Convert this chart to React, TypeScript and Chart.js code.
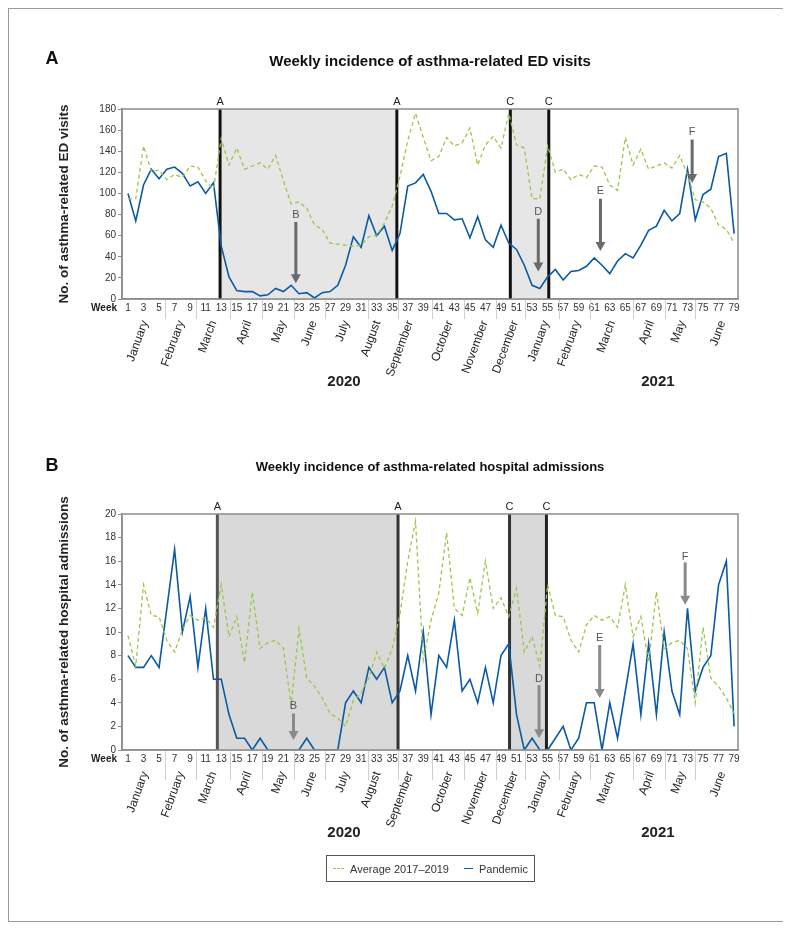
import React, { useEffect, useRef } from 'react';
import { Chart, registerables } from 'chart.js';

Chart.register(...registerables);

const FONT = "'Liberation Sans', Arial, Helvetica, sans-serif";
const NARROW = "'Liberation Sans Narrow', 'Liberation Sans', Arial, sans-serif";
const GREEN = '#9cc64a';
const BLUE = '#0b5aa2';
const AXIS = '#8c8c8c';

// ---------- categories / ticks ----------
const weeks = [
  1, 2, 3, 4, 5, 6, 7, 8, 9, 10, 11, 12, 13, 14, 15, 16, 17, 18, 19, 20,
  21, 22, 23, 24, 25, 26, 27, 28, 29, 30, 31, 32, 33, 34, 35, 36, 37, 38, 39, 40,
  41, 42, 43, 44, 45, 46, 47, 48, 49, 50, 51, 52, 53, 54, 55, 56, 57, 58, 59, 60,
  61, 62, 63, 64, 65, 66, 67, 68, 69, 70, 71, 72, 73, 74, 75, 76, 77, 78, 79,
];
const weekTicks = [
  1, 3, 5, 7, 9, 11, 13, 15, 17, 19, 21, 23, 25, 27, 29, 31, 33, 35, 37, 39,
  41, 43, 45, 47, 49, 51, 53, 55, 57, 59, 61, 63, 65, 67, 69, 71, 73, 75, 77, 79,
];
const monthNames = [
  'January', 'February', 'March', 'April', 'May', 'June', 'July', 'August',
  'September', 'October', 'November', 'December',
  'January', 'February', 'March', 'April', 'May', 'June',
];
const monthAnchorWeeks = [
  3.2, 7.85, 12.0, 16.5, 20.95, 24.9, 29.1, 33.1, 37.3, 42.4, 46.9, 50.8,
  54.8, 58.85, 63.3, 68.3, 72.35, 77.5,
];
const monthSepWeeks = [5.7, 9.8, 14.1, 18.2, 22.3, 26.4, 31.9, 35.8, 40.1, 44.2, 48.3, 52.1, 56.5, 60.5, 66, 70.1, 74];
const yearLabels = ['2020', '2021'];
const yearWeeks = [28.8, 69.2];

// ---------- Panel A: ED visits ----------
const edAverage = [
  95, 95, 145, 121, 122, 113, 118, 115, 126, 125, 112, 104, 152, 127, 143, 123, 126, 129, 123, 136,
  112, 90, 92, 86, 70, 66, 53, 52, 51, 50, 51, 59, 60, 72, 88, 116, 150, 176, 153, 131,
  135, 153, 145, 148, 162, 127, 146, 154, 143, 176, 146, 143, 95, 95, 145, 120, 123, 113, 118, 115,
  126, 125, 108, 103, 153, 127, 142, 123, 126, 129, 124, 136, 118, 94, 92, 86, 70, 66, 53,
];
const edPandemic = [
  100, 74, 108, 123, 114, 123, 125, 119, 107, 111, 100, 110, 50, 21, 8, 7, 7, 3, 4, 10,
  7, 13, 5, 6, 1, 6, 7, 13, 32, 59, 49, 79, 60, 69, 46, 62, 107, 110, 118, 102,
  81, 81, 75, 76, 58, 78, 56, 49, 70, 53, 47, 32, 13, 10, 21, 28, 18, 26, 27, 31,
  39, 32, 24, 36, 43, 39, 51, 65, 69, 84, 74, 81, 123, 75, 99, 104, 135, 138, 62,
];
const edPeriodWeeks = [12.85, 35.6, 50.2, 55.15];
const edPeriodLabels = ['A', 'A', 'C', 'C'];
const edArrowWeeks = [22.6, 53.8, 61.8, 73.6];
const edArrowLabels = ['B', 'D', 'E', 'F'];
const edArrowLabelVals = [80, 82, 102, 158];
const edArrowStartVals = [73, 76, 95, 151];
const edArrowTipVals = [15, 26, 45.5, 110];

// ---------- Panel B: hospital admissions ----------
const hospAverage = [
  9.7, 7.1, 14, 11.4, 11.3, 9.3, 8.3, 10.2, 11.4, 11, 11.2, 10.4, 14, 9.6, 11.3, 7.4, 13.4, 8.6, 9.1, 9.3,
  8.6, 3.8, 10.3, 6.1, 5.4, 4.4, 3.1, 2.7, 2.0, 4.2, 4.8, 6.1, 8.3, 6.9, 8.6, 11.5, 16, 19.4, 7.6, 11,
  13.3, 18.4, 12, 11.4, 14.6, 11.6, 16, 12, 12.9, 11.3, 13.7, 8.3, 9.6, 7.1, 14, 11.4, 11.3, 9.3, 8.3, 10.6,
  11.4, 11, 11.3, 10.4, 14, 9.6, 11.3, 7.4, 13.4, 8.6, 9.1, 9.3, 8.6, 4, 10.4, 6.1, 5.4, 4.4, 3.1,
];
const hospPandemic = [
  8, 7, 7, 8, 7, 12, 17, 10, 13, 7, 12, 6, 6, 3, 1, 1, 0, 1, 0, 0,
  0, 0, 0, 1, 0, 0, 0, 0, 4, 5, 4, 7, 6, 7, 4, 5, 8, 5, 10, 3,
  8, 7, 11, 5, 6, 4, 7, 4, 8, 9, 3, 0, 1, 0, 0, 1, 2, 0, 1, 4,
  4, 0, 4, 1, 5, 9, 3, 9, 3, 10, 5, 3, 12, 5, 7, 8, 14, 16, 2,
];
const hospPeriodWeeks = [12.5, 35.75, 50.1, 54.85];
const hospPeriodLabels = ['A', 'A', 'C', 'C'];
const hospArrowWeeks = [22.3, 53.9, 61.7, 72.7];
const hospArrowLabels = ['B', 'D', 'E', 'F'];
const hospArrowLabelVals = [3.7, 6.0, 9.5, 16.4];
const hospArrowStartVals = [3.1, 5.5, 8.9, 15.9];
const hospArrowTipVals = [0.85, 1.0, 4.4, 12.3];

type PanelCfg = {
  avg: number[];
  pandemic: number[];
  yMax: number;
  yStep: number;
  yTitle: string;
  padTop: number;
  xHeight: number;
  height: number;
  shade: string;
  periodWeeks: number[];
  periodLabels: string[];
  periodColors: string[];
  arrowWeeks: number[];
  arrowLabels: string[];
  arrowLabelVals: number[];
  arrowStartVals: number[];
  arrowTipVals: number[];
  arrowColor: string;
  sepLen: number;
};

const panelA: PanelCfg = {
  avg: edAverage,
  pandemic: edPandemic,
  yMax: 180,
  yStep: 20,
  yTitle: 'No. of asthma-related ED visits',
  padTop: 100,
  xHeight: 110,
  height: 400,
  shade: '#e6e6e6',
  periodWeeks: edPeriodWeeks,
  periodLabels: edPeriodLabels,
  periodColors: ['#111', '#111', '#111', '#111'],
  arrowWeeks: edArrowWeeks,
  arrowLabels: edArrowLabels,
  arrowLabelVals: edArrowLabelVals,
  arrowStartVals: edArrowStartVals,
  arrowTipVals: edArrowTipVals,
  arrowColor: '#6a6a6a',
  sepLen: 20,
};

const panelB: PanelCfg = {
  avg: hospAverage,
  pandemic: hospPandemic,
  yMax: 20,
  yStep: 2,
  yTitle: 'No. of asthma-related hospital admissions',
  padTop: 105,
  xHeight: 170,
  height: 511,
  shade: '#d9d9d9',
  periodWeeks: hospPeriodWeeks,
  periodLabels: hospPeriodLabels,
  periodColors: ['#555', '#333', '#333', '#222'],
  arrowWeeks: hospArrowWeeks,
  arrowLabels: hospArrowLabels,
  arrowLabelVals: hospArrowLabelVals,
  arrowStartVals: hospArrowStartVals,
  arrowTipVals: hospArrowTipVals,
  arrowColor: '#8a8a8a',
  sepLen: 30,
};

function decorPlugin(cfg: PanelCfg) {
  return {
    id: 'decor',
    beforeDatasetsDraw(chart: any) {
      const { ctx, chartArea: a, scales } = chart;
      const x = scales.x;
      ctx.save();
      ctx.fillStyle = cfg.shade;
      for (let i = 0; i + 1 < cfg.periodWeeks.length; i += 2) {
        const x0 = x.getPixelForValue(cfg.periodWeeks[i]);
        const x1 = x.getPixelForValue(cfg.periodWeeks[i + 1]);
        ctx.fillRect(x0, a.top, x1 - x0, a.bottom - a.top);
      }
      cfg.periodWeeks.forEach((w, i) => {
        const px = x.getPixelForValue(w);
        ctx.strokeStyle = cfg.periodColors[i];
        ctx.lineWidth = 3;
        ctx.beginPath();
        ctx.moveTo(px, a.top);
        ctx.lineTo(px, a.bottom);
        ctx.stroke();
        ctx.fillStyle = '#222';
        ctx.font = `11px ${FONT}`;
        ctx.textAlign = 'center';
        ctx.textBaseline = 'bottom';
        ctx.fillText(cfg.periodLabels[i], px, a.top - 2);
      });
      ctx.restore();
    },
    afterDatasetsDraw(chart: any) {
      const { ctx, scales } = chart;
      const x = scales.x;
      const y = scales.y;
      ctx.save();
      cfg.arrowWeeks.forEach((w, i) => {
        const px = x.getPixelForValue(w);
        const yS = y.getPixelForValue(cfg.arrowStartVals[i]);
        const yT = y.getPixelForValue(cfg.arrowTipVals[i]);
        const head = 9;
        ctx.strokeStyle = cfg.arrowColor;
        ctx.fillStyle = cfg.arrowColor;
        ctx.lineWidth = 3;
        ctx.beginPath();
        ctx.moveTo(px, yS);
        ctx.lineTo(px, yT - head + 1);
        ctx.stroke();
        ctx.beginPath();
        ctx.moveTo(px - 5, yT - head);
        ctx.lineTo(px + 5, yT - head);
        ctx.lineTo(px, yT);
        ctx.closePath();
        ctx.fill();
        ctx.fillStyle = '#555';
        ctx.font = `11px ${FONT}`;
        ctx.textAlign = 'center';
        ctx.textBaseline = 'middle';
        ctx.fillText(cfg.arrowLabels[i], px, y.getPixelForValue(cfg.arrowLabelVals[i]));
      });
      ctx.restore();
    },
    afterDraw(chart: any) {
      const { ctx, chartArea: a, scales } = chart;
      const x = scales.x;
      ctx.save();
      // plot frame
      ctx.strokeStyle = AXIS;
      ctx.lineWidth = 1.5;
      ctx.strokeRect(a.left, a.top, a.right - a.left, a.bottom - a.top);
      // month separators
      ctx.strokeStyle = '#cfcfcf';
      ctx.lineWidth = 1;
      monthSepWeeks.forEach((w) => {
        const px = Math.round(x.getPixelForValue(w)) + 0.5;
        ctx.beginPath();
        ctx.moveTo(px, a.bottom + 1);
        ctx.lineTo(px, a.bottom + cfg.sepLen);
        ctx.stroke();
      });
      // "Week" label
      ctx.fillStyle = '#222';
      ctx.font = `bold 10px ${FONT}`;
      ctx.textAlign = 'right';
      ctx.textBaseline = 'middle';
      ctx.fillText('Week', a.left - 5, a.bottom + 9);
      // months
      ctx.font = `12px ${FONT}`;
      ctx.fillStyle = '#222';
      const ang = (-70 * Math.PI) / 180;
      monthNames.forEach((m, i) => {
        const px = x.getPixelForValue(monthAnchorWeeks[i]);
        ctx.save();
        ctx.translate(px, a.bottom + 22);
        ctx.rotate(ang);
        ctx.textAlign = 'right';
        ctx.textBaseline = 'middle';
        ctx.fillText(m, 0, 0);
        ctx.restore();
      });
      // years
      ctx.font = `bold 15px ${FONT}`;
      ctx.textAlign = 'center';
      ctx.textBaseline = 'middle';
      yearLabels.forEach((t, i) => {
        ctx.fillText(t, x.getPixelForValue(yearWeeks[i]), a.bottom + 83);
      });
      ctx.restore();
    },
  };
}

function buildChart(canvas: HTMLCanvasElement, cfg: PanelCfg) {
  return new Chart(canvas, {
    type: 'line',
    data: {
      datasets: [
        {
          label: 'Average 2017–2019',
          data: weeks.map((w, i) => ({ x: w, y: cfg.avg[i] })),
          borderColor: GREEN,
          borderWidth: 1.3,
          borderDash: [4, 3],
          pointRadius: 0,
          fill: false,
          tension: 0,
        },
        {
          label: 'Pandemic',
          data: weeks.map((w, i) => ({ x: w, y: cfg.pandemic[i] })),
          borderColor: BLUE,
          borderWidth: 1.6,
          pointRadius: 0,
          fill: false,
          tension: 0,
        },
      ],
    },
    options: {
      responsive: false,
      animation: false,
      layout: { padding: { left: 47, right: 45, top: cfg.padTop, bottom: 0 } },
      plugins: {
        legend: { display: false },
        tooltip: { enabled: false },
        title: { display: false },
      },
      scales: {
        x: {
          type: 'linear',
          min: 0.23,
          max: 79.5,
          afterBuildTicks: (axis: any) => {
            axis.ticks = weekTicks.map((v) => ({ value: v }));
          },
          afterFit: (s: any) => {
            s.height = cfg.xHeight;
          },
          grid: { display: false, drawTicks: false },
          border: { display: true, color: AXIS, width: 1.5 },
          ticks: {
            autoSkip: false,
            maxRotation: 0,
            minRotation: 0,
            padding: 3,
            font: { family: NARROW, size: 10 },
            color: '#333',
            callback: (v: any) => String(v),
          },
        },
        y: {
          type: 'linear',
          min: 0,
          max: cfg.yMax,
          afterFit: (s: any) => {
            s.width = 66;
          },
          ticks: {
            stepSize: cfg.yStep,
            padding: 2,
            font: { family: FONT, size: 10 },
            color: '#333',
          },
          grid: { drawOnChartArea: false, drawTicks: true, tickLength: 4, color: AXIS, lineWidth: 1 },
          border: { display: true, color: AXIS, width: 1.5 },
          title: {
            display: true,
            text: cfg.yTitle,
            font: { family: FONT, size: 13.5, weight: 'bold' },
            color: '#222',
            padding: 0,
          },
        },
      },
    } as any,
    plugins: [decorPlugin(cfg)],
  });
}

function Panel({ cfg, top }: { cfg: PanelCfg; top: number }) {
  const ref = useRef<HTMLCanvasElement>(null);
  useEffect(() => {
    const chart = buildChart(ref.current as HTMLCanvasElement, cfg);
    return () => chart.destroy();
  }, []);
  return (
    <canvas
      ref={ref}
      width={774}
      height={cfg.height}
      style={{ position: 'absolute', left: 0, top, width: 774, height: cfg.height }}
    />
  );
}

const textBase: React.CSSProperties = {
  position: 'absolute',
  transform: 'translate(-50%, -50%)',
  whiteSpace: 'nowrap',
  fontFamily: FONT,
  color: '#111',
};

export default function App() {
  return (
    <div
      style={{
        position: 'relative',
        width: 776,
        height: 914,
        border: '1px solid #9a9a9a',
        boxSizing: 'border-box',
        background: '#fff',
      }}
    >
      <Panel cfg={panelA} top={0} />
      <Panel cfg={panelB} top={400} />
      <div style={{ ...textBase, left: 43, top: 49, fontSize: 18, fontWeight: 'bold' }}>A</div>
      <div style={{ ...textBase, left: 421, top: 51, fontSize: 15, fontWeight: 'bold' }}>
        Weekly incidence of asthma-related ED visits
      </div>
      <div style={{ ...textBase, left: 43, top: 456, fontSize: 18, fontWeight: 'bold' }}>B</div>
      <div style={{ ...textBase, left: 421, top: 457, fontSize: 13, fontWeight: 'bold' }}>
        Weekly incidence of asthma-related hospital admissions
      </div>
      <div
        style={{
          position: 'absolute',
          left: 317,
          top: 846,
          width: 209,
          height: 27,
          border: '1px solid #555',
          boxSizing: 'border-box',
          display: 'flex',
          alignItems: 'center',
          justifyContent: 'center',
          fontFamily: FONT,
          fontSize: 11,
          color: '#333',
        }}
      >
        <span style={{ display: 'inline-block', width: 11, borderTop: `1.5px dashed ${GREEN}`, marginRight: 6 }} />
        <span>Average 2017–2019</span>
        <span style={{ display: 'inline-block', width: 9, borderTop: `1.5px solid ${BLUE}`, marginLeft: 15, marginRight: 6 }} />
        <span>Pandemic</span>
      </div>
    </div>
  );
}
